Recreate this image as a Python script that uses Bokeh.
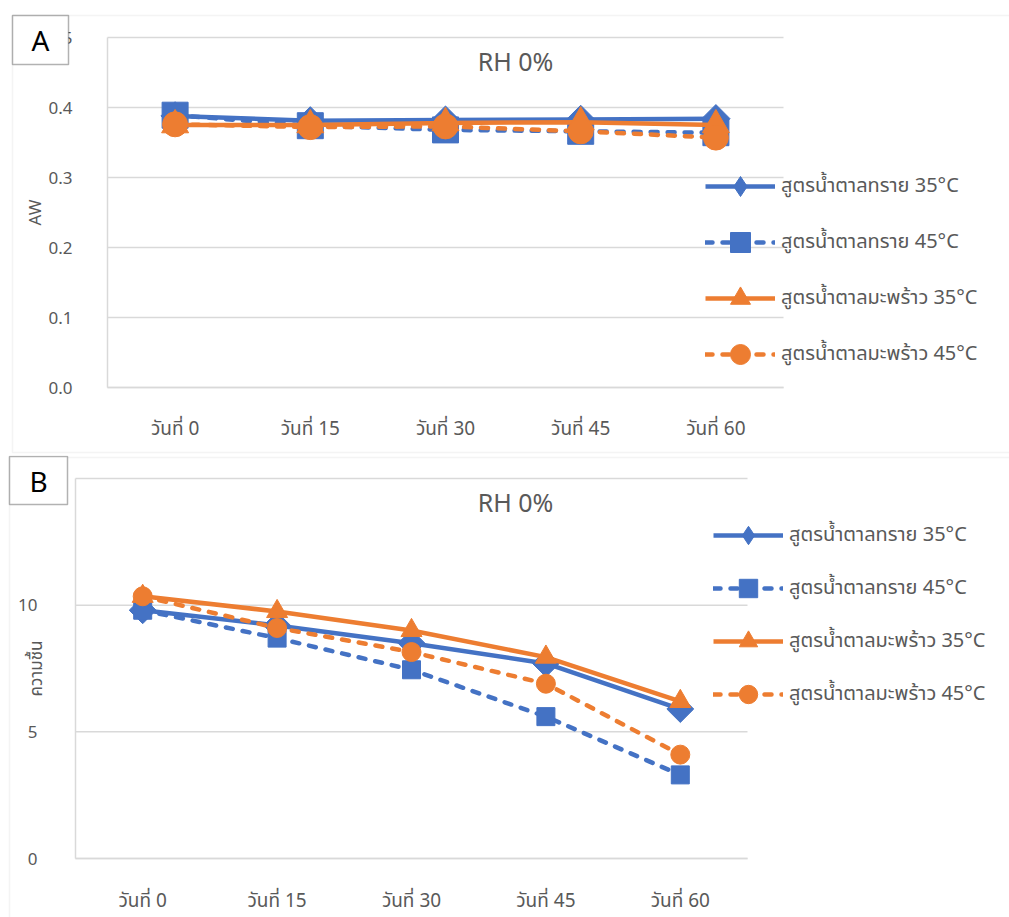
import math

from bokeh.embed import file_html
from bokeh.layouts import column
from bokeh.models import (BoxAnnotation, FixedTicker, Label, Legend, LegendItem,
                          NumeralTickFormatter, Range1d)
from bokeh.plotting import figure
from bokeh.resources import INLINE

# ---- data -------------------------------------------------------------------
days = ["วันที่ 0", "วันที่ 15", "วันที่ 30", "วันที่ 45", "วันที่ 60"]
series_names = [
    "สูตรน้ำตาลทราย 35°C",
    "สูตรน้ำตาลทราย 45°C",
    "สูตรน้ำตาลมะพร้าว 35°C",
    "สูตรน้ำตาลมะพร้าว 45°C",
]

# water activity (panel A)
aw_sugar_35 = [0.388, 0.381, 0.382, 0.383, 0.384]
aw_sugar_45 = [0.389, 0.374, 0.368, 0.366, 0.364]
aw_coconut_35 = [0.375, 0.375, 0.378, 0.379, 0.375]
aw_coconut_45 = [0.376, 0.372, 0.373, 0.366, 0.357]

# moisture content (panel B)
mc_sugar_35 = [9.8, 9.2, 8.5, 7.7, 5.9]
mc_sugar_45 = [9.8, 8.7, 7.45, 5.6, 3.3]
mc_coconut_35 = [10.35, 9.75, 9.0, 7.95, 6.2]
mc_coconut_45 = [10.35, 9.1, 8.15, 6.9, 4.1]

aw_ticks = [0.0, 0.1, 0.2, 0.3, 0.4, 0.5]
mc_ticks = [0, 5, 10, 15]

panel_title = "RH 0%"

# ---- styling ------------------------------------------------------------------
BLUE = "#4472C4"
ORANGE = "#ED7D31"
GRID = "#D9D9D9"
TEXT = "#595959"
FONT = "Noto Sans Thai, Noto Sans, sans-serif"
W = 1009

# marker drawn on the chart (diamond = square turned 45 degrees) and in the legend
series_styles = [
    dict(color=BLUE, dash="solid", marker="square", angle=math.pi / 4, key="diamond"),
    dict(color=BLUE, dash="7 10", marker="square", angle=0.0, key="square"),
    dict(color=ORANGE, dash="solid", marker="triangle", angle=0.0, key="triangle"),
    dict(color=ORANGE, dash="7 10", marker="circle", angle=0.0, key="circle"),
]

# category centres on a numeric axis (one unit per category)
x_pos = [i + 0.5 for i in range(len(days))]
NAN = float("nan")


def build_panel(tag, series, y_max, ticks, fmt, y_label, fig_h, plot_box, outer,
                tag_box, title_xy, legend_left, legend_first_row, glyph_h, item_gap,
                sizes, lw, ylab_standoff, ytick_standoff, xtick_standoff):
    left, right, top, bottom = plot_box          # plot area, figure pixels
    n_cat = len(days)
    ux = (right - left) / n_cat                  # pixels per category
    uy = (bottom - top) / y_max                  # pixels per y unit

    # the frame fills the whole canvas; the plot area sits inside it
    p = figure(width=W, height=fig_h,
               x_range=Range1d(-left / ux, (W - left) / ux),
               y_range=Range1d(-(fig_h - bottom) / uy, y_max + top / uy),
               output_backend="svg", toolbar_location=None,
               min_border_left=0, min_border_right=0,
               min_border_top=0, min_border_bottom=0,
               outline_line_color=None, background_fill_color="white",
               border_fill_color="white")
    p.title.visible = False

    def sx(px):
        return px

    def sy(py):
        return fig_h - py

    def screen_box(l, t, r, b, **kw):
        return BoxAnnotation(left=sx(l), right=sx(r), top=sy(t), bottom=sy(b),
                             left_units="screen", right_units="screen",
                             top_units="screen", bottom_units="screen", **kw)

    # outer chart border
    ol, ot, orr, ob = outer
    p.add_layout(screen_box(ol, ot, orr, ob, fill_alpha=0, line_color=GRID,
                            line_width=1.5))

    # horizontal gridlines across the plot area only
    p.xgrid.visible = False
    p.ygrid.visible = False
    p.segment(x0=[0] * len(ticks), x1=[n_cat] * len(ticks), y0=ticks, y1=ticks,
              line_color=GRID, line_width=1.5)

    # axes pinned to the plot area's edges
    xa, ya = p.xaxis[0], p.yaxis[0]
    xa.fixed_location = 0
    ya.fixed_location = 0
    xa.bounds = (0, n_cat)
    ya.bounds = (0, y_max)
    xa.ticker = FixedTicker(ticks=x_pos)
    xa.major_label_overrides = dict(zip(x_pos, days))
    ya.ticker = FixedTicker(ticks=ticks)
    ya.formatter = NumeralTickFormatter(format=fmt)
    for ax in (xa, ya):
        ax.axis_line_color = GRID
        ax.axis_line_width = 1.5
        ax.major_tick_line_color = None
        ax.minor_tick_line_color = None
        ax.major_label_text_color = TEXT
        ax.major_label_text_font = FONT
    ya.major_label_text_font_size = "17px"
    xa.major_label_text_font_size = "19px"
    ya.major_label_standoff = ytick_standoff
    xa.major_label_standoff = xtick_standoff
    ya.axis_label = y_label
    ya.axis_label_text_font = FONT
    ya.axis_label_text_font_size = "17px"
    ya.axis_label_text_font_style = "normal"
    ya.axis_label_text_color = TEXT
    ya.axis_label_standoff = ylab_standoff

    # series: line + markers; a point-less marker stands for each series in the legend
    items = []
    for name, vals, st, size in zip(series_names, series, series_styles, sizes):
        ln = p.line(x_pos, vals, line_color=st["color"], line_width=lw,
                    line_dash=st["dash"],
                    line_cap="round" if st["dash"] != "solid" else "butt",
                    line_join="round")
        p.scatter(x_pos, vals, marker=st["marker"], size=size, angle=st["angle"],
                  fill_color=st["color"], line_color=st["color"], line_width=1)
        key = p.scatter(x=[NAN], y=[NAN], marker=st["key"], size=size,
                        fill_color=st["color"], line_color=st["color"], line_width=1)
        items.append(LegendItem(label=name, renderers=[ln, key]))

    n = len(items)
    leg_top = legend_first_row - glyph_h / 2
    leg_bottom = leg_top + n * glyph_h + (n - 1) * item_gap
    legend = Legend(items=items, location=(sx(legend_left), sy(leg_bottom)),
                    orientation="vertical", glyph_width=70, glyph_height=glyph_h,
                    spacing=item_gap, padding=0, margin=0, label_standoff=6,
                    label_text_font=FONT, label_text_font_size="20px",
                    label_text_color=TEXT, label_height=glyph_h,
                    background_fill_alpha=0, border_line_color=None)
    p.add_layout(legend)

    # panel title
    tx, ty = title_xy
    p.add_layout(Label(x=sx(tx), y=sy(ty), x_units="screen", y_units="screen",
                       text=panel_title, text_align="center", text_baseline="middle",
                       text_font=FONT, text_font_size="25px", text_color=TEXT))

    # panel tag box
    bl, bt, br, bb = tag_box
    p.add_layout(screen_box(bl, bt, br, bb, fill_color="white", fill_alpha=1,
                            line_color="black", line_width=1.5))
    p.add_layout(Label(x=sx((bl + br) / 2), y=sy((bt + bb) / 2),
                       x_units="screen", y_units="screen", text=tag,
                       text_align="center", text_baseline="middle",
                       text_font="Noto Sans", text_font_size="28px",
                       text_color="black"))
    return p


panel_a = build_panel(
    "A", [aw_sugar_35, aw_sugar_45, aw_coconut_35, aw_coconut_45], 0.5, aw_ticks, "0.0",
    "AW", 455, (107, 783, 37, 387), (12, 15, 1030, 452), (12, 15, 68, 64),
    (515, 62), 705, 186, 50, 6, [20, 26, 27, 25], 4.5, -4, 29, 21)

panel_b = build_panel(
    "B", [mc_sugar_35, mc_sugar_45, mc_coconut_35, mc_coconut_45], 15, mc_ticks, "0",
    "ความชื้น", 462, (75, 747, 23, 403), (9, 2, 1030, 480), (9, 1, 67, 49),
    (515, 48), 713, 80, 46, 7, [19, 18, 21, 19], 4.5, -35, 32, 22)

layout = column(panel_a, panel_b, spacing=0)
open("out.html", "w").write(file_html(layout, INLINE))
